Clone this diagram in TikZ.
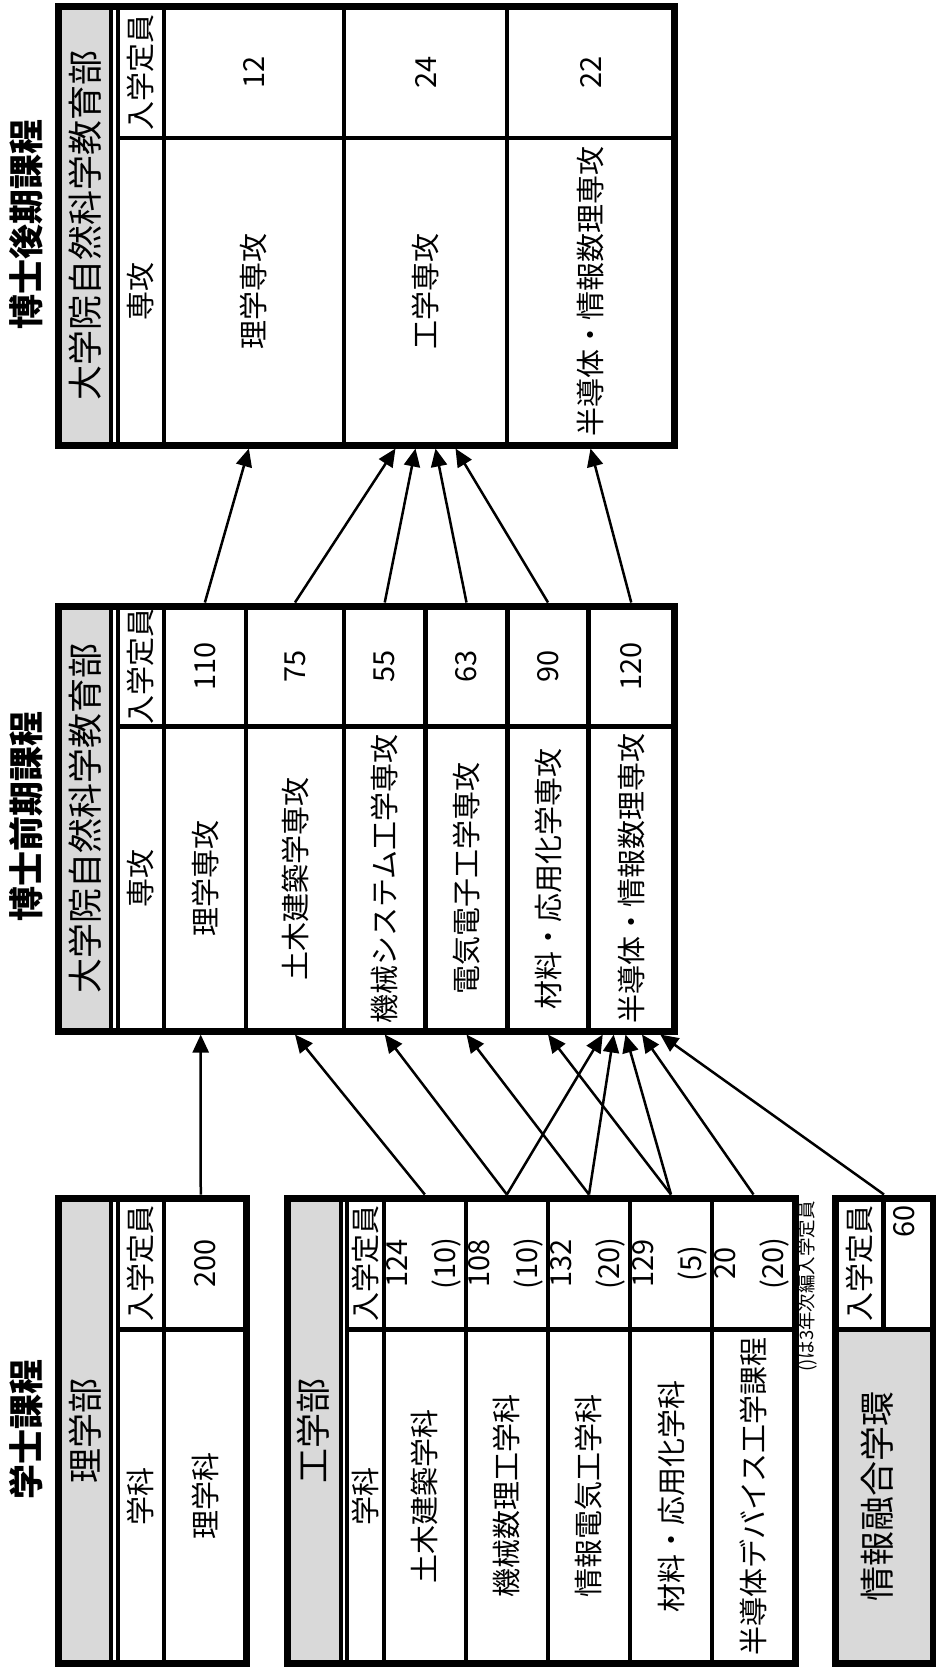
\documentclass[tikz,border=0pt]{standalone}
\usepackage{fontspec}
\setmainfont{Noto Sans CJK JP}
\usetikzlibrary{arrows.meta,calc,fit}
\definecolor{bandgray}{RGB}{217,217,217}
\begin{document}
\begin{tikzpicture}[x=1pt,y=-1pt,
  outer/.style={line width=7pt},
  grid/.style={line width=4.3pt},
  gline/.style={line width=3.7pt},
  cell/.style={inner sep=0pt,outer sep=0pt},
  txt/.style={rotate=90,inner sep=0pt,font=\fontsize{29}{32}\selectfont},
  num/.style={rotate=90,inner sep=0pt,font=\fontsize{29}{32}\selectfont},
  band/.style={rotate=90,inner sep=0pt,font=\fontsize{35}{38}\selectfont},
  ttl/.style={rotate=90,inner sep=0pt,font=\fontsize{35}{38}\selectfont\bfseries},
  note/.style={rotate=90,inner sep=0pt,font=\fontsize{18.5}{20}\selectfont},
  arr/.style={line width=2.5pt,-{Triangle[length=18pt,width=16pt]}}
]
\useasboundingbox (0,0) rectangle (936,1668);

% ---------- titles ----------
\node[ttl] (title1) at (26.6,224) {博士後期課程};
\node[ttl] (title2) at (26.6,816) {博士前期課程};
\node[ttl] (title3) at (26.6,1429) {学士課程};

% ---------- top table (doctoral, latter) ----------
\fill[bandgray] (58.3,6.7) rectangle (110.85,445);
\draw[gline] (110.85,6.7) -- (110.85,445);
\draw[grid] (117.85,6.7) -- (117.85,445);
\draw[grid] (163.8,6.7) -- (163.8,445);
\draw[grid] (344,6.7) -- (344,445);
\draw[grid] (507,6.7) -- (507,445);
\draw[grid] (117.85,138.3) -- (674,138.3);
\draw[outer] (58.3,6.7) rectangle (674,445);
\node[cell,fit={(163.8,3.2)(344,448.5)}] (Tri) {};
\node[cell,fit={(344,3.2)(507,448.5)}] (Tko) {};
\node[cell,fit={(507,3.2)(674,448.5)}] (Tsd) {};
\node[band] (Tband) at (85.4,225.9) {大学院自然科学教育部};
\node[txt] (Th1) at (140.8,72.5) {入学定員};
\node[txt] (Th2) at (140.8,291.6) {専攻};
\node[txt] (Ta1) at (253.9,291.6) {理学専攻};
\node[num] (Tb1) at (253.9,72.5) {12};
\node[txt] (Ta2) at (425.5,291.6) {工学専攻};
\node[num] (Tb2) at (425.5,72.5) {24};
\node[txt] (Ta3) at (590.5,291.6) {半導体・情報数理専攻};
\node[num] (Tb3) at (590.5,72.5) {22};

% ---------- middle table (doctoral, former) ----------
\fill[bandgray] (58.3,606) rectangle (110.85,1031.3);
\draw[gline] (110.85,606) -- (110.85,1031.3);
\draw[grid] (117.85,606) -- (117.85,1031.3);
\foreach \xx in {163.8,246,344,425.5,507.5,588.5}
  \draw[grid] (\xx,606) -- (\xx,1031.3);
\draw[grid] (117.85,726.5) -- (674,726.5);
\draw[outer] (58.3,606) rectangle (674,1031.3);
\node[cell,fit={(163.8,602.5)(246,1034.5)}] (Mri) {};
\node[cell,fit={(246,602.5)(344,1034.5)}] (Mdo) {};
\node[cell,fit={(344,602.5)(425.5,1034.5)}] (Mki) {};
\node[cell,fit={(425.5,602.5)(507.5,1034.5)}] (Mde) {};
\node[cell,fit={(507.5,602.5)(588.5,1034.5)}] (Mza) {};
\node[cell,fit={(588.5,602.5)(674,1034.5)}] (Msd) {};
\node[band] (Mband) at (85.4,818.6) {大学院自然科学教育部};
\node[txt] (Mh1) at (140.8,666.2) {入学定員};
\node[txt] (Mh2) at (140.8,878.9) {専攻};
\node[txt] (Ma1) at (205,878.9) {理学専攻};
\node[num] (Mb1) at (205,666.2) {110};
\node[txt] (Ma2) at (295,878.9) {土木建築学専攻};
\node[num] (Mb2) at (295,666.2) {75};
\node[txt] (Ma3) at (384.7,878.9) {機械システム工学専攻};
\node[num] (Mb3) at (384.7,666.2) {55};
\node[txt] (Ma4) at (466.5,878.9) {電気電子工学専攻};
\node[num] (Mb4) at (466.5,666.2) {63};
\node[txt] (Ma5) at (548,878.9) {材料・応用化学専攻};
\node[num] (Mb5) at (548,666.2) {90};
\node[txt] (Ma6) at (631.2,878.9) {半導体・情報数理専攻};
\node[num] (Mb6) at (631.2,666.2) {120};

% ---------- bottom: faculty of science ----------
\fill[bandgray] (58.3,1198) rectangle (110.85,1663.3);
\draw[gline] (110.85,1198) -- (110.85,1663.3);
\draw[grid] (117.85,1198) -- (117.85,1663.3);
\draw[grid] (163.8,1198) -- (163.8,1663.3);
\draw[grid] (117.85,1329.5) -- (246.5,1329.5);
\draw[outer] (58.3,1198) rectangle (246.5,1663.3);
\node[cell,fit={(163.8,1194.5)(246.5,1666.8)}] (Bri) {};
\node[band] (Rband) at (85.4,1430.6) {理学部};
\node[txt] (Rh1) at (140.8,1263.7) {入学定員};
\node[txt] (Rh2) at (140.8,1496.4) {学科};
\node[txt] (Ra1) at (205.1,1496.4) {理学科};
\node[num] (Rb1) at (205.1,1263.7) {200};

% ---------- bottom: faculty of engineering ----------
\fill[bandgray] (287,1198) rectangle (341,1663.3);
\draw[gline] (341,1198) -- (341,1663.3);
\draw[grid] (347,1198) -- (347,1663.3);
\foreach \xx in {384,465.7,548,630,712}
  \draw[grid] (\xx,1198) -- (\xx,1663.3);
\draw[grid] (347,1329.5) -- (795,1329.5);
\draw[outer] (287,1198) rectangle (795,1663.3);
\node[cell,fit={(384,1194.5)(465.7,1666.8)}] (Bdo) {};
\node[cell,fit={(465.7,1194.5)(548,1666.8)}] (Bki) {};
\node[cell,fit={(548,1194.5)(630,1666.8)}] (Bjo) {};
\node[cell,fit={(630,1194.5)(712,1666.8)}] (Bza) {};
\node[cell,fit={(712,1194.5)(795,1666.8)}] (Bsd) {};
\node[band] (Eband) at (313.5,1430.6) {工学部};
\node[txt] (Eh1) at (365.5,1263.7) {入学定員};
\node[txt] (Eh2) at (365.5,1496.4) {学科};
\node[txt] (Ea1) at (424.9,1496.4) {土木建築学科};
\node[txt] (Ea2) at (506.9,1496.4) {機械数理工学科};
\node[txt] (Ea3) at (589,1496.4) {情報電気工学科};
\node[txt] (Ea4) at (671,1496.4) {材料・応用化学科};
\node[txt] (Ea5) at (753.5,1496.4) {半導体デバイス工学課程};
\node[num] (En1) at (397.4,1263.7) {124};
\node[num] (Ep1) at (446.5,1263.7) {(10)};
\node[num] (En2) at (479.1,1263.7) {108};
\node[num] (Ep2) at (528.2,1263.7) {(10)};
\node[num] (En3) at (561.4,1263.7) {132};
\node[num] (Ep3) at (610.5,1263.7) {(20)};
\node[num] (En4) at (643.4,1263.7) {129};
\node[num] (Ep4) at (692.5,1263.7) {(5)};
\node[num] (En5) at (725.4,1263.7) {20};
\node[num] (Ep5) at (774.5,1263.7) {(20)};
\node[note,anchor=east] (note) at (807.6,1201) {()は3年次編入学定員};

% ---------- bottom: information fusion ----------
\fill[bandgray] (835,1329.5) rectangle (933,1663.3);
\draw[grid] (883.5,1198) -- (883.5,1329.5);
\draw[grid] (835,1329.5) -- (933,1329.5);
\draw[outer] (835,1198) rectangle (933,1663.3);
\node[cell,fit={(835,1194.5)(933,1666.8)}] (Bjy) {};
\node[txt] (Jh1) at (859.2,1263.7) {入学定員};
\node[num,anchor=east] (Jb1) at (904,1205.5) {60};
\node[band] (Jband) at (877,1496.4) {情報融合学環};

% ---------- connectors: former -> latter ----------
\draw[arr] (Mri.north) -- ($(Tri.south)+(-5,0)$);
\draw[arr] (Mdo.north) -- ($(Tko.south)+(-30,0)$);
\draw[arr] (Mki.north) -- ($(Tko.south)+(-10,0)$);
\draw[arr] (Mde.north) -- ($(Tko.south)+(10,0)$);
\draw[arr] (Mza.north) -- ($(Tko.south)+(30,0)$);
\draw[arr] (Msd.north) -- (Tsd.south);

% ---------- connectors: bachelor -> former ----------
\draw[arr] ($(Bri.north)+(-4.4,0)$) -- ($(Mri.south)+(-4.2,0)$);
\draw[arr] (Bdo.north) -- (Mdo.south);
\draw[arr] (Bki.north) -- (Mki.south);
\draw[arr] (Bki.north) -- ($(Msd.south)+(-28.5,0)$);
\draw[arr] (Bjo.north) -- (Mde.south);
\draw[arr] (Bjo.north) -- ($(Msd.south)+(-17.5,0)$);
\draw[arr] (Bza.north) -- (Mza.south);
\draw[arr] (Bza.north) -- ($(Msd.south)+(-5.75,0)$);
\draw[arr] (Bsd.north) -- ($(Msd.south)+(10.75,0)$);
\draw[arr] (Bjy.north) -- ($(Msd.south)+(29,0)$);
\end{tikzpicture}
\end{document}
